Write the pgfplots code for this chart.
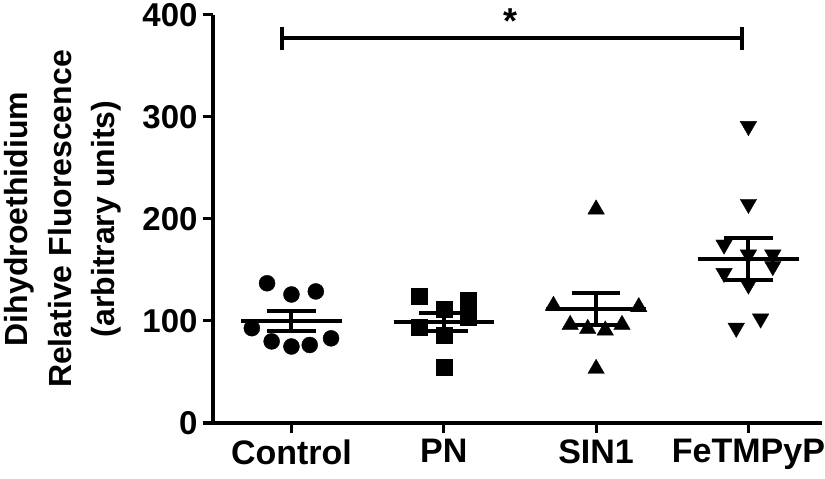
\documentclass[border=0pt]{standalone}
\usepackage{fontspec}
\setmainfont{Liberation Sans}
\usepackage{pgfplots}
\pgfplotsset{compat=1.18}
\begin{document}
\begin{tikzpicture}
\path[use as bounding box] (0bp,0bp) rectangle (825bp,479bp);
\begin{axis}[
  at={(213bp,56bp)}, anchor=south west,
  width=609bp, height=408bp, scale only axis,
  xmin=-0.515, xmax=3.483, ymin=0, ymax=400,
  axis x line=bottom, axis y line=left,
  axis line style={-, line width=3bp, black},
  tick align=outside,
  major tick length=10bp,
  tick style={line width=3bp, black},
  xtick={0,1,2,3}, xticklabels={Control,PN,SIN1,FeTMPyP},
  ytick={0,100,200,300,400}, yticklabels={0,100,200,300,400},
  minor tick num=0,
  yticklabel style={font=\fontsize{33bp}{36bp}\selectfont\bfseries, xshift=-2bp},
  xticklabel style={font=\fontsize{34bp}{36bp}\selectfont\bfseries, yshift=-3bp},
  ylabel={Dihydroethidium\\Relative Fluorescence\\(arbitrary units)},
  ylabel style={at={(axis description cs:-0.2463,0.5)}, anchor=center, align=center,
    font=\fontsize{32bp}{43.5bp}\selectfont\bfseries},
  clip=false,
]
% Control
\addplot[only marks, mark=*, mark size=8bp, black] coordinates {
(-0.16,137) (0,126) (0.16,129) (-0.26,93) (-0.13,80) (0,75) (0.12,76.5) (0.26,83)};
% PN
\addplot[only marks, mark=square*, mark size=8bp, black] coordinates {
(0.84,124) (1,112) (1.16,120.6) (1.16,104) (0.84,94.4) (1,86) (1,54.6)};
% SIN1
\addplot[only marks, mark=triangle*, mark size=9.5bp, black] coordinates {
(2,209.5) (1.72,115) (2.28,113.7) (1.83,96.3) (1.945,92.4) (2.06,90.8) (2.17,96.3) (2,53.2)};
% FeTMPyP
\addplot[only marks, mark=triangle*, mark size=9.5bp, black, mark options={rotate=180}] coordinates {
(3,291) (3,214.7) (2.84,174.8) (3,165) (3.16,165) (3.16,153.7) (2.84,147) (3,135.6) (3.08,102.3) (2.92,93.2)};
% means and SEM
\addplot[black, line width=4bp] coordinates {(-0.33,100) (0.33,100)};
\addplot[black, line width=4bp] coordinates {(0,90.5) (0,109.5)};
\addplot[black, line width=4bp] coordinates {(-0.16,109.5) (0.16,109.5)};
\addplot[black, line width=4bp] coordinates {(-0.16,90.5) (0.16,90.5)};
\addplot[black, line width=4bp] coordinates {(0.67,99) (1.33,99)};
\addplot[black, line width=4bp] coordinates {(1,90.2) (1,108)};
\addplot[black, line width=4bp] coordinates {(0.84,108) (1.16,108)};
\addplot[black, line width=4bp] coordinates {(0.84,90.2) (1.16,90.2)};
\addplot[black, line width=4bp] coordinates {(1.67,111.5) (2.33,111.5)};
\addplot[black, line width=4bp] coordinates {(2,96) (2,127)};
\addplot[black, line width=4bp] coordinates {(1.84,127) (2.16,127)};
\addplot[black, line width=4bp] coordinates {(1.84,96) (2.16,96)};
\addplot[black, line width=4bp] coordinates {(2.67,160.5) (3.33,160.5)};
\addplot[black, line width=4bp] coordinates {(3,140) (3,181)};
\addplot[black, line width=4bp] coordinates {(2.84,181) (3.16,181)};
\addplot[black, line width=4bp] coordinates {(2.84,140) (3.16,140)};
% significance bar
\addplot[black, line width=4bp] coordinates {(-0.06,377) (2.955,377)};
\addplot[black, line width=4bp] coordinates {(-0.06,366) (-0.06,388)};
\addplot[black, line width=4bp] coordinates {(2.955,366) (2.955,388)};
\node[anchor=north, inner sep=0pt, font=\fontsize{36bp}{36bp}\selectfont\bfseries] at (axis cs:1.44,406) {*};
\end{axis}
\end{tikzpicture}
\end{document}
